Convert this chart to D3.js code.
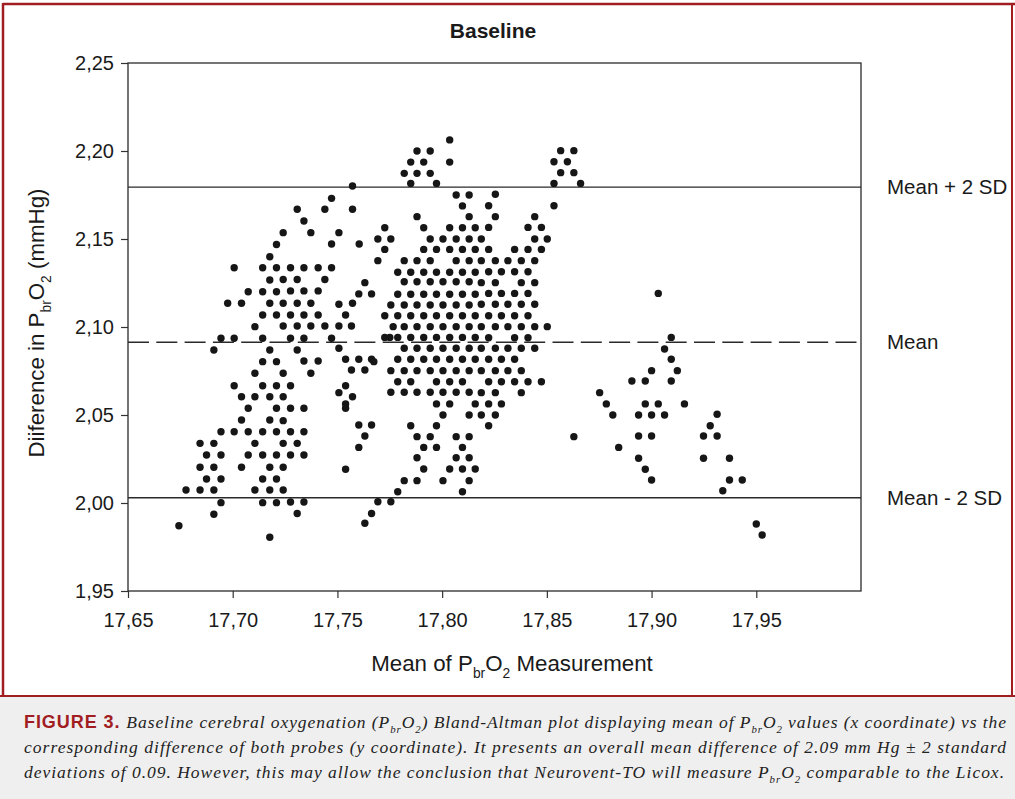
<!DOCTYPE html>
<html>
<head>
<meta charset="utf-8">
<script src="https://cdn.jsdelivr.net/npm/d3@7"></script>
<style>
	body { margin: 0; background: #ffffff; }
	#chart { width: 1015px; height: 799px; }
	.axis text { font-family: 'Liberation Sans', Arial, sans-serif; font-size: 20px; fill: #1a1a1a; }
	.axis line { stroke: #333333; stroke-width: 1.2; }
	.axis path { display: none; }
</style>
</head>
<body>
<div id="chart"></div>
<script>

// ---- values ----
var xTicks = [17.65, 17.70, 17.75, 17.80, 17.85, 17.90, 17.95];
var yTicks = [1.95, 2.00, 2.05, 2.10, 2.15, 2.20, 2.25];

var refLabels = ['Mean + 2 SD', 'Mean', 'Mean - 2 SD'];
var refValues = [2.1795, 2.0913, 2.0030];

// each row: [difference, [means...]]
var leftRows = [
	[2.1469, [17.7209]],
	[2.1399, [17.7177]],
	[2.1337, [17.7007, 17.7143, 17.7209]],
	[2.1267, [17.7177]],
	[2.1200, [17.7074, 17.7143, 17.7209]],
	[2.1135, [17.6976, 17.7042, 17.7177]],
	[2.1068, [17.7143, 17.7209]],
	[2.1002, [17.7106]],
	[2.0936, [17.6944, 17.7007, 17.7143]],
	[2.0869, [17.6910, 17.7177]],
	[2.0803, [17.7143, 17.7209]],
	[2.0737, [17.7106]],
	[2.0666, [17.7007, 17.7143, 17.7209]],
	[2.0604, [17.7042, 17.7106, 17.7177]],
	[2.0538, [17.7074, 17.7209]],
	[2.0472, [17.7042, 17.7177]],
	[2.0405, [17.6944, 17.7007, 17.7074, 17.7143, 17.7209]],
	[2.0339, [17.6844, 17.6910, 17.7106]],
	[2.0273, [17.6875, 17.6944, 17.7074, 17.7143, 17.7209]],
	[2.0203, [17.6844, 17.6910, 17.7042, 17.7177]],
	[2.0136, [17.6875, 17.6944, 17.7143, 17.7209]],
	[2.0074, [17.6777, 17.6844, 17.6910, 17.7106, 17.7177]],
	[2.0002, [17.6944, 17.7143, 17.7209]],
	[1.9936, [17.6910]],
	[1.9871, [17.6743]],
	[1.9805, [17.7177]]
];

var midRows = [
	[2.1801, [17.7572]],
	[2.1731, [17.7472]],
	[2.1669, [17.7308, 17.7440, 17.7572]],
	[2.1602, [17.7340]],
	[2.1536, [17.7241, 17.7373, 17.7507]],
	[2.1472, [17.7472, 17.7604]],
	[2.1337, [17.7276, 17.7340, 17.7408, 17.7472]],
	[2.1270, [17.7241, 17.7308, 17.7440]],
	[2.1252, [17.7631]],
	[2.1205, [17.7276, 17.7340, 17.7408]],
	[2.1188, [17.7602, 17.7663]],
	[2.1135, [17.7241, 17.7308, 17.7373, 17.7572]],
	[2.1129, [17.7507]],
	[2.1068, [17.7276, 17.7340, 17.7408, 17.7539]],
	[2.1006, [17.7241, 17.7308, 17.7373, 17.7440, 17.7507, 17.7567]],
	[2.0936, [17.7276, 17.7340, 17.7472]],
	[2.0879, [17.7507]],
	[2.0869, [17.7308]],
	[2.0817, [17.7539, 17.7602, 17.7663]],
	[2.0807, [17.7340, 17.7408]],
	[2.0803, [17.7674]],
	[2.0756, [17.7567, 17.7631]],
	[2.0737, [17.7241, 17.7373]],
	[2.0666, [17.7276, 17.7539]],
	[2.0627, [17.7507]],
	[2.0604, [17.7241, 17.7572]],
	[2.0563, [17.7539]],
	[2.0538, [17.7276, 17.7340, 17.7539]],
	[2.0468, [17.7241]],
	[2.0443, [17.7602, 17.7663]],
	[2.0405, [17.7276, 17.7340]],
	[2.0381, [17.7631]],
	[2.0339, [17.7241, 17.7308]],
	[2.0316, [17.7602]],
	[2.0273, [17.7276, 17.7340]],
	[2.0203, [17.7241]],
	[2.0192, [17.7539]],
	[2.0074, [17.7241]],
	[2.0006, [17.7276, 17.7340]],
	[1.9940, [17.7308, 17.7663]],
	[1.9885, [17.7631]]
];

var centreRows = [
	[2.2063, [17.8036]],
	[2.2000, [17.7880, 17.7943]],
	[2.1937, [17.7850, 17.7912, 17.8036]],
	[2.1873, [17.7819, 17.7880, 17.7943]],
	[2.1816, [17.7850, 17.7973]],
	[2.1750, [17.8067, 17.8129]],
	[2.1688, [17.8097]],
	[2.1627, [17.7880, 17.8129]],
	[2.1564, [17.7726, 17.7912, 17.8036, 17.8097, 17.8158]],
	[2.1500, [17.7693, 17.7755, 17.7943, 17.8004, 17.8067, 17.8129]],
	[2.1441, [17.7726, 17.7912, 17.7973, 17.8036, 17.8097, 17.8158]],
	[2.1377, [17.7693, 17.7819, 17.7880, 17.7943, 17.8067, 17.8129]],
	[2.1311, [17.7788, 17.7850, 17.7912, 17.7973, 17.8036, 17.8097, 17.8158]],
	[2.1257, [17.7819, 17.7880, 17.7943, 17.8004, 17.8067, 17.8129]],
	[2.1186, [17.7788, 17.7850, 17.7912, 17.7973, 17.8036, 17.8097, 17.8158]],
	[2.1125, [17.7755, 17.7819, 17.7880, 17.7943, 17.8004, 17.8067, 17.8129]],
	[2.1064, [17.7726, 17.7788, 17.7850, 17.7912, 17.7973, 17.8036, 17.8097, 17.8158]],
	[2.1002, [17.7766, 17.7819, 17.7880, 17.7943, 17.8004, 17.8067, 17.8129]],
	[2.0941, [17.7726, 17.7750, 17.7788, 17.7850, 17.7912, 17.7973, 17.8036, 17.8097, 17.8158]],
	[2.0879, [17.7819, 17.7880, 17.7943, 17.8004, 17.8067, 17.8129]],
	[2.0817, [17.7788, 17.7850, 17.7912, 17.7973, 17.8036, 17.8097, 17.8158]],
	[2.0752, [17.7755, 17.7819, 17.7880, 17.7943, 17.8004, 17.8067, 17.8129]],
	[2.0689, [17.7788, 17.7850, 17.7973, 17.8036, 17.8097]],
	[2.0629, [17.7755, 17.7819, 17.7880, 17.7943, 17.8004, 17.8067, 17.8129]],
	[2.0563, [17.7973, 17.8036, 17.8158]],
	[2.0500, [17.8004, 17.8129]],
	[2.0439, [17.7850, 17.7973]],
	[2.0377, [17.7880, 17.7943, 17.8067, 17.8129]],
	[2.0316, [17.7912, 17.7973, 17.8097]],
	[2.0257, [17.7880, 17.8067, 17.8129]],
	[2.0193, [17.7912, 17.8036, 17.8097, 17.8158]],
	[2.0127, [17.7819, 17.7880, 17.8004, 17.8129]],
	[2.0064, [17.7788, 17.8097]],
	[2.0007, [17.7693, 17.7755]]
];

var centreRightRows = [
	[2.2002, [17.8566, 17.8629]],
	[2.1939, [17.8534, 17.8598]],
	[2.1877, [17.8566, 17.8629]],
	[2.1816, [17.8534, 17.8661]],
	[2.1754, [17.8254]],
	[2.1689, [17.8222, 17.8534]],
	[2.1627, [17.8254, 17.8442]],
	[2.1566, [17.8222, 17.8410, 17.8474]],
	[2.1500, [17.8187, 17.8442, 17.8502]],
	[2.1441, [17.8222, 17.8346, 17.8410, 17.8474]],
	[2.1377, [17.8187, 17.8254, 17.8314, 17.8378, 17.8442]],
	[2.1314, [17.8222, 17.8283, 17.8346, 17.8410]],
	[2.1252, [17.8187, 17.8254, 17.8378, 17.8442]],
	[2.1191, [17.8222, 17.8283, 17.8346, 17.8410]],
	[2.1129, [17.8187, 17.8254, 17.8314, 17.8378, 17.8442]],
	[2.1064, [17.8222, 17.8283, 17.8346, 17.8410]],
	[2.1002, [17.8187, 17.8254, 17.8314, 17.8378, 17.8442, 17.8502]],
	[2.0939, [17.8222, 17.8346, 17.8410]],
	[2.0879, [17.8187, 17.8254, 17.8314, 17.8378, 17.8442]],
	[2.0817, [17.8222, 17.8283, 17.8346]],
	[2.0752, [17.8187, 17.8254, 17.8314, 17.8378]],
	[2.0689, [17.8222, 17.8283, 17.8346, 17.8410, 17.8474]],
	[2.0627, [17.8187, 17.8254, 17.8378]],
	[2.0563, [17.8222, 17.8283]],
	[2.0500, [17.8187, 17.8254]],
	[2.0439, [17.8222]],
	[2.0377, [17.8629]]
];

var rightRows = [
	[2.1191, [17.9032]],
	[2.0941, [17.9094]],
	[2.0875, [17.9062]],
	[2.0817, [17.9094]],
	[2.0752, [17.9000, 17.9123]],
	[2.0693, [17.8906, 17.8970, 17.9094]],
	[2.0627, [17.8752]],
	[2.0563, [17.8784, 17.8970, 17.9032, 17.9157]],
	[2.0504, [17.9313]],
	[2.0500, [17.8815, 17.8938, 17.9000, 17.9062]],
	[2.0439, [17.9280]],
	[2.0381, [17.8938, 17.9000, 17.9248, 17.9313]],
	[2.0316, [17.8843]],
	[2.0254, [17.8938, 17.9248, 17.9372]],
	[2.0192, [17.8970]],
	[2.0131, [17.9000, 17.9372, 17.9433]],
	[2.0070, [17.9340]],
	[1.9881, [17.9500]],
	[1.9818, [17.9528]]
];


// ---- helpers ----
function appendLine(svgInput, lineX1, lineX2, lineY1, lineY2, color, strokeWidth, strokeDashArray) {

	svgInput.append('line')
			.attr('x1', lineX1)
			.attr('x2', lineX2)
			.attr('y1', lineY1)
			.attr('y2', lineY2)
			.style('stroke', color)
			.style('stroke-width', strokeWidth)
			.style('stroke-dasharray', strokeDashArray);
};

// parts: [text, isSub]
function appendRichText(textInput, parts, fontSize) {

	var shift = fontSize * 0.3;
	var down = false;
	parts.forEach(function(p) {
		var t = textInput.append('tspan').text(p[0]);
		if ( p[1] ) {
			t.style('font-size', (fontSize * 0.62) + 'px');
			if ( !down ) { t.attr('dy', shift); down = true; }
		}
		else {
			if ( down ) { t.attr('dy', -shift); down = false; }
		}
	});
};

function flattenRows(rows) {
	var out = [];
	rows.forEach(function(r) {
		r[1].forEach(function(v) { out.push([v, r[0]]); });
	});
	return out;
};


// ---- svg ----
var svg = d3.select('#chart')
			.append('svg')
				.attr('width', 1015)
				.attr('height', 799);

var sans = "'Liberation Sans', Arial, sans-serif";
var serif = "'Liberation Serif', 'Times New Roman', serif";
var red = '#a11d22';

// caption panel
svg.append('rect')
		.attr('x', 0).attr('y', 696)
		.attr('width', 1015).attr('height', 103)
		.style('fill', '#efefef');

appendLine(svg, 0, 1015, 696, 696, red, 2, null);
appendLine(svg, 3, 3, 3, 696, red, 2.5, null);
appendLine(svg, 3, 1015, 4, 4, red, 2.5, null);
appendLine(svg, 1012, 1012, 3, 696, red, 2, null);

// scales
var x = d3.scaleLinear().domain([17.65, 18.0]).range([128, 861]);
var y = d3.scaleLinear().domain([1.95, 2.25]).range([591, 63]);

var locale = d3.formatLocale({ decimal: ',', thousands: '.', grouping: [3], currency: ['', ''] });
var fmt = locale.format('.2f');

svg.append('g')
		.attr('class', 'axis')
		.attr('transform', 'translate(128,0)')
		.call(d3.axisLeft(y).tickValues(yTicks).tickSize(7).tickPadding(7).tickFormat(fmt));

svg.append('g')
		.attr('class', 'axis')
		.attr('transform', 'translate(0,591)')
		.call(d3.axisBottom(x).tickValues(xTicks).tickSize(7).tickPadding(15).tickFormat(fmt));

// frame
svg.append('rect')
		.attr('x', 128).attr('y', 63)
		.attr('width', 733).attr('height', 528)
		.style('fill', 'none')
		.style('stroke', '#2a2a2a')
		.style('stroke-width', 1.3);

// reference lines
refValues.forEach(function(v, i) {
	appendLine(svg, x(17.65), x(18.0), y(v), y(v), '#2a2a2a', 1.4, i == 1 ? '21,7.3' : null);

	svg.append('text')
			.attr('x', 887)
			.attr('y', y(v))
			.attr('dy', '0.35em')
			.text(refLabels[i])
				.style('font-family', sans)
				.style('font-size', '20.5px')
				.style('fill', '#1a1a1a');
});

// points
var allPoints = flattenRows(leftRows)
					.concat(flattenRows(midRows))
					.concat(flattenRows(centreRows))
					.concat(flattenRows(centreRightRows))
					.concat(flattenRows(rightRows));

svg.append('g')
		.selectAll('circle')
		.data(allPoints)
		.enter()
		.append('circle')
			.attr('cx', function(d) { return x(d[0]); })
			.attr('cy', function(d) { return y(d[1]); })
			.attr('r', 3.7)
			.style('fill', '#161616');

// title
svg.append('text')
		.attr('x', 493)
		.attr('y', 38)
		.attr('text-anchor', 'middle')
		.text('Baseline')
			.style('font-family', sans)
			.style('font-weight', 'bold')
			.style('font-size', '21px')
			.style('fill', '#1a1a1a');

// axis titles
var xTitle = svg.append('text')
		.attr('x', 512)
		.attr('y', 671)
		.attr('text-anchor', 'middle')
		.style('font-family', sans)
		.style('font-size', '22.3px')
		.style('fill', '#1a1a1a');
appendRichText(xTitle, [['Mean of P'], ['br', true], ['O'], ['2', true], [' Measurement']], 22.3);

var yTitle = svg.append('text')
		.attr('transform', 'translate(44,323) rotate(-90)')
		.attr('text-anchor', 'middle')
		.style('font-family', sans)
		.style('font-size', '22.3px')
		.style('fill', '#1a1a1a');
appendRichText(yTitle, [['Diiference in P'], ['br', true], ['O'], ['2', true], [' (mmHg)']], 22.3);

// caption
var capLines = [
	{ y: 728, len: 982, parts: [['Baseline cerebral oxygenation (P'], ['br', true], ['O'], ['2', true], [') Bland-Altman plot displaying mean of P'], ['br', true], ['O'], ['2', true], [' values (x coordinate) vs the']] },
	{ y: 753, len: 982, parts: [['corresponding difference of both probes (y coordinate). It presents an overall mean difference of 2.09 mm Hg \u00b1 2 standard']] },
	{ y: 778, len: 980, parts: [['deviations of 0.09. However, this may allow the conclusion that Neurovent-TO will measure P'], ['br', true], ['O'], ['2', true], [' comparable to the Licox.']] }
];

capLines.forEach(function(c, i) {
	var t = svg.append('text')
			.attr('x', 24)
			.attr('y', c.y)
			.attr('textLength', c.len)
			.attr('lengthAdjust', 'spacing')
			.style('font-family', serif)
			.style('font-style', 'italic')
			.style('font-size', '17.5px')
			.style('fill', '#222222');
	if ( i == 0 ) {
		t.append('tspan')
			.text('FIGURE 3. ')
				.style('font-family', sans)
				.style('font-style', 'normal')
				.style('font-weight', 'bold')
				.style('font-size', '18px')
				.style('fill', red);
	}
	appendRichText(t, c.parts, 17.5);
});

</script>
</body>
</html>
